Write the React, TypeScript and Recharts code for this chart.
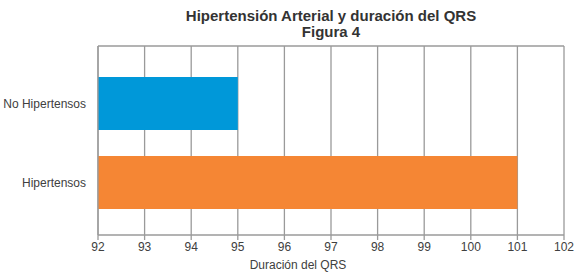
import React from 'react';
import { BarChart, Bar, XAxis, YAxis, CartesianGrid, Cell } from 'recharts';

const categories = ['No Hipertensos', 'Hipertensos'];
const qrsValues = [95, 101];
const barColors = ['#0098D9', '#F58634'];
const xTicks = [92, 93, 94, 95, 96, 97, 98, 99, 100, 101, 102];

const data = categories.map((name, i) => ({ name, value: qrsValues[i] }));

const font = '"Liberation Sans", Arial, sans-serif';
const gridColor = '#9a9a9a';
const textColor = '#404040';

const CategoryTick = ({ x, y, payload }: any) => (
  <text x={x - 4} y={y} dy={4} textAnchor="end" fontSize={12} fill={textColor} fontFamily={font}>
    {payload.value}
  </text>
);

const App: React.FC = () => {
  return (
    <div style={{ position: 'absolute', left: 0, top: 0, width: 575, height: 273, background: '#fff', fontFamily: font }}>
      <div
        style={{
          position: 'absolute',
          left: 98,
          width: 466,
          top: 8,
          textAlign: 'center',
          fontWeight: 'bold',
          fontSize: 15,
          lineHeight: '16px',
          color: '#333',
        }}
      >
        Hipertensión Arterial y duración del QRS
        <br />
        Figura 4
      </div>
      <div
        style={{
          position: 'absolute',
          left: 198,
          width: 200,
          top: 258,
          textAlign: 'center',
          fontSize: 12,
          lineHeight: '14px',
          color: textColor,
        }}
      >
        Duración del QRS
      </div>
      <BarChart
        width={575}
        height={273}
        data={data}
        layout="vertical"
        margin={{ top: 46, right: 11, bottom: 0, left: 0 }}
        style={{ fontFamily: font }}
      >
        <CartesianGrid
          stroke={gridColor}
          strokeWidth={1.3}
          vertical
          horizontal
          horizontalCoordinatesGenerator={({ offset }: any) => [offset.top]}
        />
        <XAxis
          type="number"
          domain={[92, 102]}
          ticks={xTicks}
          interval={0}
          height={38}
          tickSize={5}
          axisLine={{ stroke: gridColor, strokeWidth: 1.5 }}
          tickLine={{ stroke: gridColor, strokeWidth: 1.3 }}
          tick={{ fontSize: 12, fill: textColor }}
        />
        <YAxis
          type="category"
          dataKey="name"
          width={98}
          padding={{ top: 18, bottom: 13 }}
          axisLine={{ stroke: gridColor, strokeWidth: 1.3 }}
          tickLine={false}
          tick={<CategoryTick />}
        />
        <Bar dataKey="value" barSize={53} isAnimationActive={false}>
          {data.map((d, i) => (
            <Cell key={d.name} fill={barColors[i]} />
          ))}
        </Bar>
      </BarChart>
    </div>
  );
};

export default App;
